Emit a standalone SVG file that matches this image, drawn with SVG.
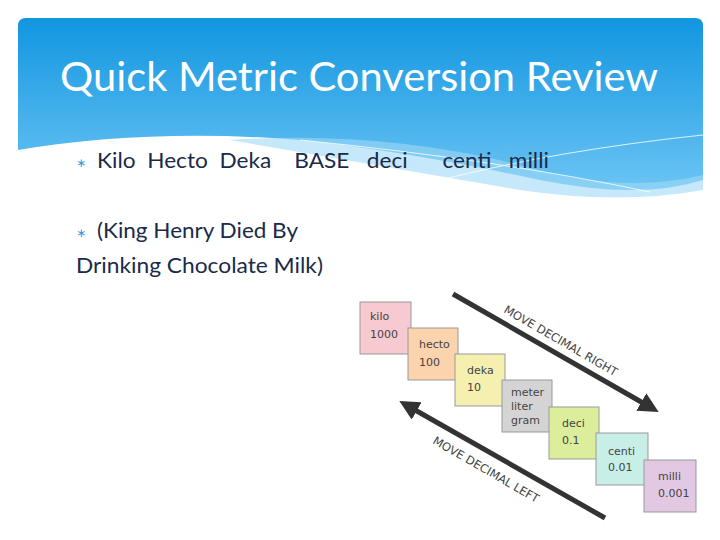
<svg xmlns="http://www.w3.org/2000/svg" width="720" height="540" viewBox="0 0 720 540">
<defs>
<linearGradient id="hg" x1="0" y1="0" x2="0" y2="1"><stop offset="0" stop-color="#1196e0"/><stop offset="1" stop-color="#6cc4f4"/></linearGradient>
<marker id="ah" markerWidth="4" markerHeight="4" refX="2" refY="2" orient="auto" markerUnits="strokeWidth"><path d="M0,0 L4,2 L0,4 z" fill="#333"/></marker>
<style>
.box{stroke:#999;stroke-width:1}
.bt{font-family:"DejaVu Sans",sans-serif;font-size:11px;fill:#444}
.mv{font-family:"DejaVu Sans",sans-serif;font-size:11.5px;fill:#444}
.body{font-family:"Lato","Liberation Sans",sans-serif;font-size:21px;fill:#1a2a4a}
.arr{stroke:#333;stroke-width:5;fill:none;marker-end:url(#ah)}
</style>
</defs>
<rect width="720" height="540" fill="#fff"/>
<g id="header">
<path d="M26,18 H695 Q703,18 703,26 V180 Q640,200 540,180 Q400,150 300,140 Q150,128 18,150 V26 Q18,18 26,18 Z" fill="url(#hg)"/>
<path d="M230,140 Q380,130 520,165 Q620,195 703,175 V190 Q620,205 520,190" fill="#9fd8f7" opacity="0.6"/>
<path d="M440,180 Q560,150 703,135" stroke="#fff" stroke-width="1" fill="none" opacity="0.8"/>
<path d="M300,140 Q500,160 650,192" stroke="#fff" stroke-width="1" fill="none" opacity="0.8"/>
<text x="60" y="91" textLength="598" lengthAdjust="spacingAndGlyphs" font-family="Lato,'Open Sans',sans-serif" font-size="40" fill="#fff">Quick Metric Conversion Review</text>
</g>
<g id="bullets">
<text x="76" y="167" font-family="DejaVu Sans,sans-serif" font-size="12" fill="#2a9ad8">∗</text>
<text x="97" y="168" class="body" xml:space="preserve" textLength="452" lengthAdjust="spacingAndGlyphs">Kilo  Hecto  Deka    BASE   deci      centi   milli</text>
<text x="76" y="237" font-family="DejaVu Sans,sans-serif" font-size="12" fill="#2a9ad8">∗</text>
<text x="97" y="238" class="body" textLength="201" lengthAdjust="spacingAndGlyphs">(King Henry Died By</text>
<text x="76" y="273" class="body" textLength="247" lengthAdjust="spacingAndGlyphs">Drinking Chocolate Milk)</text>
</g>
<g id="connectors">
<line x1="453" y1="294" x2="650" y2="407" class="arr"/>
<line x1="605" y1="518" x2="408" y2="406" class="arr"/>
<text class="mv" transform="translate(503,312) rotate(30)">MOVE DECIMAL RIGHT</text>
<text class="mv" transform="translate(432,443) rotate(30)">MOVE DECIMAL LEFT</text>
</g>
<g id="kilo"><rect x="360" y="302" width="51" height="52" fill="#f7c9d0" class="box"/><text x="370" y="320" class="bt">kilo</text><text x="370" y="338" class="bt">1000</text></g>
<g id="hecto"><rect x="408" y="328" width="50" height="52" fill="#fbd3ad" class="box"/><text x="419" y="348" class="bt">hecto</text><text x="419" y="366" class="bt">100</text></g>
<g id="deka"><rect x="455" y="354" width="50" height="52" fill="#f6f0b0" class="box"/><text x="467" y="374" class="bt">deka</text><text x="467" y="391" class="bt">10</text></g>
<g id="meter"><rect x="502" y="380" width="50" height="52" fill="#d4d4d4" class="box"/><text x="511" y="396" class="bt">meter</text><text x="511" y="410" class="bt">liter</text><text x="511" y="424" class="bt">gram</text></g>
<g id="deci"><rect x="549" y="407" width="50" height="52" fill="#dcee9c" class="box"/><text x="562" y="427" class="bt">deci</text><text x="562" y="444" class="bt">0.1</text></g>
<g id="centi"><rect x="596" y="433" width="52" height="52" fill="#c8eee8" class="box"/><text x="608" y="455" class="bt">centi</text><text x="608" y="471" class="bt">0.01</text></g>
<g id="milli"><rect x="644" y="460" width="52" height="52" fill="#e2c8e2" class="box"/><text x="658" y="480" class="bt">milli</text><text x="658" y="497" class="bt">0.001</text></g>
</svg>
